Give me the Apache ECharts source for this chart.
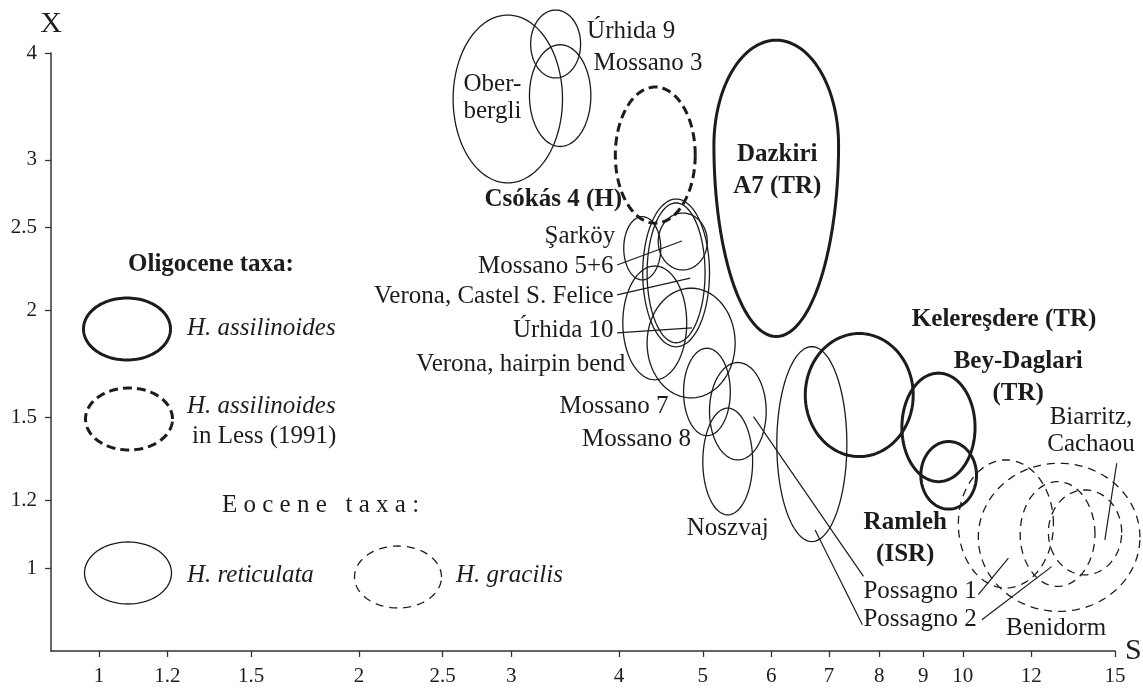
<!DOCTYPE html>
<html>
<head>
<meta charset="utf-8">
<title>Heterostegina S–X chart</title>
<script src="https://cdn.jsdelivr.net/npm/echarts@6/dist/echarts.min.js"></script>
<style>
  html, body { margin: 0; padding: 0; background: #fff; }
  #chart { width: 1143px; height: 688px; }
</style>
</head>
<body>
<div id="chart"></div>
<script>
// axis ticks (both axes are logarithmic)
const sTicks = [1, 1.2, 1.5, 2, 2.5, 3, 4, 5, 6, 7, 8, 9, 10, 12, 15];
const xTicks = [1, 1.2, 1.5, 2, 2.5, 3, 4];

// populations: extent of each ellipse in S and X
const taxa = [
  'Oberbergli', 'Úrhida 9', 'Mossano 3', 'Csókás 4 (H)', 'Dazkiri A7 (TR)',
  'Kelereşdere (TR)', 'Bey-Daglari (TR)', 'Ramleh (ISR)',
  'Şarköy', 'Verona, Castel S. Felice', 'Úrhida 10', 'Mossano 5+6',
  'Verona, hairpin bend', 'Mossano 8', 'Mossano 7', 'Possagno 1', 'Noszvaj', 'Possagno 2',
  'Possagno 1 (gracilis)', 'Benidorm', 'Possagno 2 (gracilis)', 'Biarritz, Cachaou'
];
const group = [
  'ret', 'ret', 'ret', 'less', 'assi',
  'assi', 'assi', 'assi',
  'ret', 'ret', 'ret', 'ret',
  'ret', 'ret', 'ret', 'ret', 'ret', 'ret',
  'grac', 'grac', 'grac', 'grac'
];
const sMin = [2.57, 3.16, 3.15, 3.96, 5.15, 6.57, 8.50, 8.94, 4.05, 4.26, 4.31, 4.44, 4.04, 4.31, 4.75, 5.09, 5.00, 6.09, 9.88, 10.42, 11.65, 12.56];
const sMax = [3.44, 3.61, 3.71, 4.90, 7.18, 8.76, 10.33, 10.37, 4.47, 5.09, 5.03, 5.06, 4.79, 5.45, 5.38, 5.92, 5.71, 7.34, 12.73, 16.03, 14.22, 15.27];
const xMin = [2.82, 3.74, 3.11, 2.53, 1.865, 1.35, 1.262, 1.172, 2.172, 1.814, 1.834, 2.231, 1.66, 1.581, 1.428, 1.338, 1.154, 1.074, 0.948, 0.890, 0.952, 0.982];
const xMax = [4.43, 4.49, 4.09, 3.65, 4.14, 1.88, 1.69, 1.406, 2.575, 2.70, 2.672, 2.60, 2.255, 2.124, 1.807, 1.739, 1.538, 1.815, 1.338, 1.326, 1.262, 1.234];
// X where the outline is widest (egg shape), null = plain ellipse
const xWidest = [null, null, null, null, 3.12, null, null, null, null, null, null, null, null, null, null, null, null, null, null, null, null, null];

// text notes placed at (S, X)
const noteText = [
  'Úrhida 9', 'Mossano 3', 'Ober-\nbergli', 'Csókás 4 (H)', 'Şarköy', 'Mossano 5+6',
  'Verona, Castel S. Felice', 'Úrhida 10', 'Verona, hairpin bend', 'Mossano 7', 'Mossano 8',
  'Noszvaj', 'Dazkiri\nA7 (TR)', 'Kelereşdere (TR)', 'Bey-Daglari\n(TR)', 'Biarritz,\nCachaou',
  'Ramleh\n(ISR)', 'Possagno 1', 'Possagno 2', 'Benidorm'
];
const noteS = [3.673, 3.737, 2.854, 4.031, 3.96, 3.942, 3.942, 3.942, 4.067, 4.564, 4.845, 5.344, 6.097, 11.16, 11.59, 14.07, 8.577, 7.672, 7.672, 12.82];
const noteX = [4.236, 3.89, 3.54, 2.694, 2.44, 2.251, 2.076, 1.898, 1.728, 1.545, 1.412, 1.114, 2.912, 1.95, 1.671, 1.447, 1.082, 0.939, 0.87, 0.851];
const noteAlign = ['left', 'left', 'center', 'right', 'right', 'right', 'right', 'right', 'right', 'right', 'right', 'center', 'center', 'center', 'center', 'center', 'center', 'left', 'left', 'center'];
const noteBold = [false, false, false, true, false, false, false, false, false, false, false, false, true, true, true, false, true, false, false, false];

// leader lines from notes to ellipses
const leadS0 = [3.979, 3.979, 3.979, 7.672, 7.651, 10.42, 10.52, 15.07];
const leadX0 = [2.261, 2.086, 1.883, 0.978, 0.8586, 0.931, 0.87, 1.326];
const leadS1 = [4.729, 4.835, 4.858, 5.723, 6.745, 11.29, 12.67, 14.60];
const leadX1 = [2.412, 2.182, 1.909, 1.503, 1.108, 1.027, 1.004, 1.079];

const ink = '#1c1c1c';
const serif = '"Liberation Serif", "Times New Roman", serif';
const lg = Math.log10;

// 线型
const lineStyles = {
  assi: { lineWidth: 3, lineDash: null },
  less: { lineWidth: 3, lineDash: [9, 5] },
  ret: { lineWidth: 1.3, lineDash: null },
  grac: { lineWidth: 1.3, lineDash: [8, 6] }
};

function ovalPoints(cx, cy, rx, ryUp, ryDown) {
  const pts = [];
  for (let k = 0; k < 120; k++) {
    const t = k / 120 * Math.PI * 2;
    const s = Math.sin(t);
    pts.push([cx + rx * Math.cos(t), cy - (s > 0 ? ryUp : ryDown) * s]);
  }
  return pts;
}

function tickLabel(v) {
  return String(Math.round(Math.pow(10, v) * 10) / 10);
}

function legendOval(cx, cy, kind) {
  const st = lineStyles[kind];
  return {
    type: 'polygon',
    shape: { points: ovalPoints(cx, cy, 43.5, 31, 31) },
    style: { fill: 'none', stroke: ink, lineWidth: st.lineWidth, lineDash: st.lineDash }
  };
}

function legendText(x, y, text, extra) {
  return {
    type: 'text', x: x, y: y,
    style: Object.assign({
      text: text, fill: ink, fontFamily: serif, fontSize: 25,
      align: 'left', verticalAlign: 'middle'
    }, extra || {})
  };
}

const axisCommon = {
  type: 'value',
  axisLine: { show: true, onZero: false, lineStyle: { color: '#333', width: 1.5 } },
  axisTick: { show: true, inside: false, length: 6, lineStyle: { color: '#333', width: 1.3 } },
  splitLine: { show: false },
  nameTextStyle: { fontFamily: serif, fontSize: 30, color: ink, fontStyle: 'normal' }
};

const option = {
  backgroundColor: '#fff',
  animation: false,
  grid: { left: 51, right: 28, top: 53, bottom: 37, containLabel: false, outerBoundsMode: 'none' },
  xAxis: Object.assign({}, axisCommon, {
    min: lg(0.88), max: lg(15),
    name: 'S', nameLocation: 'end', nameGap: 10,
    axisTick: Object.assign({}, axisCommon.axisTick, { customValues: sTicks.map(lg) }),
    axisLabel: {
      customValues: sTicks.map(lg), formatter: tickLabel, margin: 15,
      fontFamily: serif, fontSize: 21, color: ink
    }
  }),
  yAxis: Object.assign({}, axisCommon, {
    min: lg(0.8), max: lg(4),
    name: 'X', nameLocation: 'end', nameGap: 14,
    nameTextStyle: { fontFamily: serif, fontSize: 30, color: ink, align: 'center' },
    axisTick: Object.assign({}, axisCommon.axisTick, { customValues: xTicks.map(lg) }),
    axisLabel: {
      customValues: xTicks.map(lg), formatter: tickLabel, margin: 14,
      fontFamily: serif, fontSize: 21, color: ink
    }
  }),
  graphic: [
    legendText(128, 265, 'Oligocene taxa:', { fontWeight: 'bold' }),
    legendOval(127, 329, 'assi'),
    legendText(187, 328, 'H. assilinoides', { fontStyle: 'italic' }),
    legendOval(129, 419, 'less'),
    legendText(187, 406, 'H. assilinoides', { fontStyle: 'italic' }),
    legendText(192, 436, 'in Less (1991)'),
    legendText(222, 505, 'E o c e n e   t a x a :'),
    legendOval(128, 573, 'ret'),
    legendText(187, 575, 'H. reticulata', { fontStyle: 'italic' }),
    legendOval(398, 577, 'grac'),
    legendText(456, 575, 'H. gracilis', { fontStyle: 'italic' })
  ],
  series: [
    {
      name: 'populations',
      type: 'custom',
      clip: false,
      silent: true,
      data: taxa.map((t, i) => [lg(sMin[i]), lg(xMin[i])]),
      renderItem: function (params, api) {
        const i = params.dataIndex;
        const a = api.coord([lg(sMin[i]), lg(xMax[i])]);
        const b = api.coord([lg(sMax[i]), lg(xMin[i])]);
        const cx = (a[0] + b[0]) / 2;
        const rx = (b[0] - a[0]) / 2;
        let cy = (a[1] + b[1]) / 2;
        if (xWidest[i] != null) cy = api.coord([lg(sMin[i]), lg(xWidest[i])])[1];
        const st = lineStyles[group[i]];
        return {
          type: 'polygon',
          shape: { points: ovalPoints(cx, cy, rx, cy - a[1], b[1] - cy) },
          style: { fill: 'none', stroke: ink, lineWidth: st.lineWidth, lineDash: st.lineDash }
        };
      }
    },
    {
      name: 'leaders',
      type: 'custom',
      clip: false,
      silent: true,
      data: leadS0.map((s, i) => [lg(s), lg(leadX0[i]), lg(leadS1[i]), lg(leadX1[i])]),
      renderItem: function (params, api) {
        const p0 = api.coord([api.value(0), api.value(1)]);
        const p1 = api.coord([api.value(2), api.value(3)]);
        return {
          type: 'line',
          shape: { x1: p0[0], y1: p0[1], x2: p1[0], y2: p1[1] },
          style: { stroke: ink, lineWidth: 1.2 }
        };
      }
    },
    {
      name: 'notes',
      type: 'custom',
      clip: false,
      silent: true,
      z: 5,
      data: noteText.map((t, i) => [lg(noteS[i]), lg(noteX[i])]),
      renderItem: function (params, api) {
        const i = params.dataIndex;
        const p = api.coord([api.value(0), api.value(1)]);
        return {
          type: 'text',
          x: p[0], y: p[1],
          style: {
            text: noteText[i], fill: ink, fontFamily: serif, fontSize: 25,
            fontWeight: noteBold[i] ? 'bold' : 'normal',
            align: noteAlign[i], verticalAlign: 'middle',
            lineHeight: noteBold[i] ? 32 : 27
          }
        };
      }
    }
  ]
};

const chart = echarts.init(document.getElementById('chart'), null, { renderer: 'canvas' });
chart.setOption(option);
window.addEventListener('resize', () => chart.resize());
</script>
</body>
</html>
